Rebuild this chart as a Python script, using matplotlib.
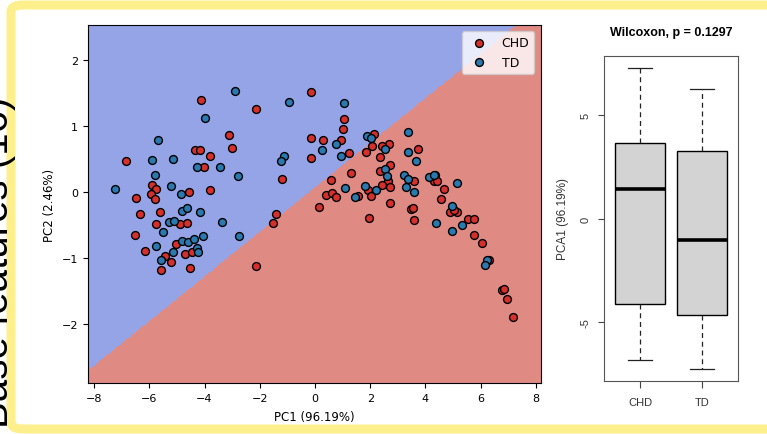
import numpy as np
import matplotlib.pyplot as plt
from matplotlib.colors import ListedColormap
from matplotlib.patches import FancyBboxPatch

# PCA scores (PC1, PC2)
chd_pc1 = [-4.13, -3.10, -3.01, -4.33, -4.15, -3.80, -6.85, -4.03, -6.47, -5.91,
           -5.74, -5.95, -5.78, -4.55, -3.80, -6.34, -5.62, -5.75, -4.87, -4.62,
           -6.53, -5.03, -6.14, -4.72, -4.45, -5.42, -5.21, -5.58, -4.52, -0.13,
           -2.14, 1.05, 1.02, -0.13, 0.28, 0.94, -0.13, 1.23, -1.19, 2.12,
           2.05, 1.84, 2.37, 1.31, 0.59, 0.39, 0.60, 0.75, 0.14, -1.40,
           1.91, 1.54, 2.02, 2.67, 2.41, 3.73, 2.71, 2.35, 2.65, 2.43,
           2.71, 3.57, 4.36, 4.31, 4.42, 4.66, 4.56, 2.71, 3.49, 3.55,
           5.15, 4.87, 3.57, 5.05, 5.54, 5.74, 5.74, 6.04, 6.29, 6.76,
           6.85, 6.94, 7.17, 1.97, -1.52, -2.14]
chd_pc2 = [1.39, 0.86, 0.67, 0.63, 0.64, 0.55, 0.47, 0.38, -0.09, 0.10,
           0.04, -0.03, -0.11, 0.00, 0.03, -0.33, -0.31, -0.49, -0.49, -0.48,
           -0.65, -0.79, -0.90, -0.95, -0.92, -0.98, -1.07, -1.18, -1.15, 1.52,
           1.25, 1.11, 0.95, 0.81, 0.79, 0.79, 0.51, 0.59, 0.20, 0.88,
           0.70, 0.61, 0.53, 0.29, 0.18, -0.05, -0.02, -0.08, -0.23, -0.34,
           0.02, -0.06, -0.06, 0.73, 0.70, 0.65, 0.41, 0.32, 0.16, 0.11,
           0.07, 0.16, 0.25, 0.16, 0.16, 0.05, -0.11, -0.17, -0.26, -0.25,
           -0.30, -0.30, -0.43, -0.28, -0.41, -0.41, -0.65, -0.78, -1.03, -1.49,
           -1.47, -1.62, -1.90, -0.39, -0.48, -1.12]

td_pc1 = [-2.88, -4.00, -5.68, -5.91, -5.13, -4.27, -3.43, -2.77, -5.78, -7.23,
          -5.21, -4.85, -4.83, -4.63, -4.16, -5.27, -5.10, -3.37, -5.51, -4.07,
          -2.74, -5.74, -4.81, -4.58, -4.39, -4.27, -5.13, -4.22, -5.57, -0.93,
          1.06, 0.76, 0.26, 0.93, -1.14, -1.23, 1.90, 2.02, 1.08, 1.82,
          2.21, 1.44, 3.37, 2.53, 3.37, 3.66, 2.53, 2.61, 3.21, 3.35,
          3.31, 3.57, 4.12, 4.31, 5.15, 4.97, 4.39, 4.96, 5.32, 6.21,
          6.17]
td_pc2 = [1.53, 1.12, 0.79, 0.48, 0.50, 0.38, 0.38, 0.24, 0.26, 0.04,
          0.09, -0.03, -0.29, -0.25, -0.31, -0.46, -0.45, -0.46, -0.61, -0.67,
          -0.67, -0.82, -0.74, -0.76, -0.72, -0.85, -0.92, -0.92, -1.03, 1.36,
          1.34, 0.73, 0.64, 0.54, 0.54, 0.47, 0.84, 0.82, 0.06, 0.09,
          0.03, -0.08, 0.90, 0.65, 0.60, 0.47, 0.34, 0.24, 0.26, 0.19,
          0.08, 0.00, 0.23, 0.25, 0.14, -0.21, -0.48, -0.59, -0.50, -1.04,
          -1.11]

# linear decision boundary (PC2 = slope * PC1 + intercept), TD above
bound_slope = 0.338
bound_intercept = 0.08

# boxplot summary of PC1 per group
groups = ['CHD', 'TD']
box_whislo = [-6.83, -7.23]
box_q1 = [-4.09, -4.62]
box_med = [1.44, -1.01]
box_q3 = [3.64, 3.24]
box_whishi = [7.27, 6.26]
p_value = 0.1297

W, H = 767, 435
fig = plt.figure(figsize=(W / 100, H / 100), dpi=100)
fig.patch.set_facecolor('white')

# yellow slide frame + side title (pixel positions -> figure fractions)
fl, ft, fb, fr = 11, 6, 430, 820
frame = FancyBboxPatch((fl / W, 1 - fb / H), (fr - fl) / W, (fb - ft) / H,
                       boxstyle='round,pad=0,rounding_size=0.015',
                       transform=fig.transFigure, fill=False, edgecolor='#fdf08c',
                       lw=6.5, zorder=0, clip_on=False)
fig.patches.append(frame)
fig.text(16 / W, 1 - 262 / H, 'Base features (16)', rotation=90, ha='right', va='center',
         fontsize=29, family='Liberation Sans', color='black')

# ---- left: PCA scatter with decision regions
ax = fig.add_axes([0.1143, 0.1172, 0.5906, 0.823])
all_x = np.array(chd_pc1 + td_pc1)
all_y = np.array(chd_pc2 + td_pc2)
x_min, x_max = all_x.min() - 1, all_x.max() + 1
y_min, y_max = all_y.min() - 1, all_y.max() + 1
xx, yy = np.meshgrid(np.arange(x_min, x_max, 0.02), np.arange(y_min, y_max, 0.02))
zz = (yy > bound_slope * xx + bound_intercept).astype(float)
ax.contourf(xx, yy, zz, levels=[-0.5, 0.5, 1.5], cmap=ListedColormap(['#e08a84', '#95a3e7']))

ax.scatter(chd_pc1, chd_pc2, c='#d7302c', edgecolors='k', s=32, linewidths=1, label='CHD', zorder=3)
ax.scatter(td_pc1, td_pc2, c='#2a7ab0', edgecolors='k', s=32, linewidths=1, label='TD', zorder=3)
ax.set_xlim(x_min, x_max)
ax.set_ylim(y_min, y_max)
ax.set_xticks([-8, -6, -4, -2, 0, 2, 4, 6, 8])
ax.set_yticks([-2, -1, 0, 1, 2])
ax.tick_params(labelsize=8)
ax.set_xlabel('PC1 (96.19%)', fontsize=8.5, labelpad=5)
ax.set_ylabel('PC2 (2.46%)', fontsize=8.5)
ax.legend(loc='upper right', fontsize=9)

# ---- right: R-style boxplot
ax2 = fig.add_axes([0.7879, 0.1225, 0.1739, 0.7471])
stats = []
for i, g in enumerate(groups):
    stats.append({'label': g, 'whislo': box_whislo[i], 'q1': box_q1[i], 'med': box_med[i],
                  'q3': box_q3[i], 'whishi': box_whishi[i], 'fliers': []})
ax2.bxp(stats, positions=[1, 2], widths=0.8, patch_artist=True, showfliers=False,
        capwidths=0.4,
        boxprops=dict(facecolor='#d3d3d3', edgecolor='k', lw=1),
        medianprops=dict(color='k', lw=2.6),
        whiskerprops=dict(color='#222222', lw=0.9, ls=(0, (4, 3))),
        capprops=dict(color='#222222', lw=0.9))
lo = min(box_whislo)
hi = max(box_whishi)
pad = (hi - lo) * 0.04
ax2.set_ylim(lo - pad, hi + pad)
ax2.set_xlim(0.42, 2.58)
ax2.set_yticks([-5, 0, 5])
ax2.set_yticklabels(['-5', '0', '5'], rotation=90, va='center', family='Liberation Sans')
ax2.set_xticks([1, 2])
ax2.set_xticklabels(groups, family='Liberation Sans')
ax2.tick_params(axis='y', labelsize=8, length=4, pad=6, colors='#444444', labelcolor='#333333')
ax2.tick_params(axis='x', labelsize=8, length=5, pad=7, colors='#444444', labelcolor='#333333')
for sp in ax2.spines.values():
    sp.set_color('#555555')
ax2.set_ylabel('PCA1 (96.19%)', fontsize=8.5, family='Liberation Sans', color='#333333', labelpad=8)
ax2.set_title(f'Wilcoxon, p = {p_value}', fontsize=9, fontweight='bold',
              family='Liberation Sans', pad=15)

fig.savefig('out.png', dpi=100)
